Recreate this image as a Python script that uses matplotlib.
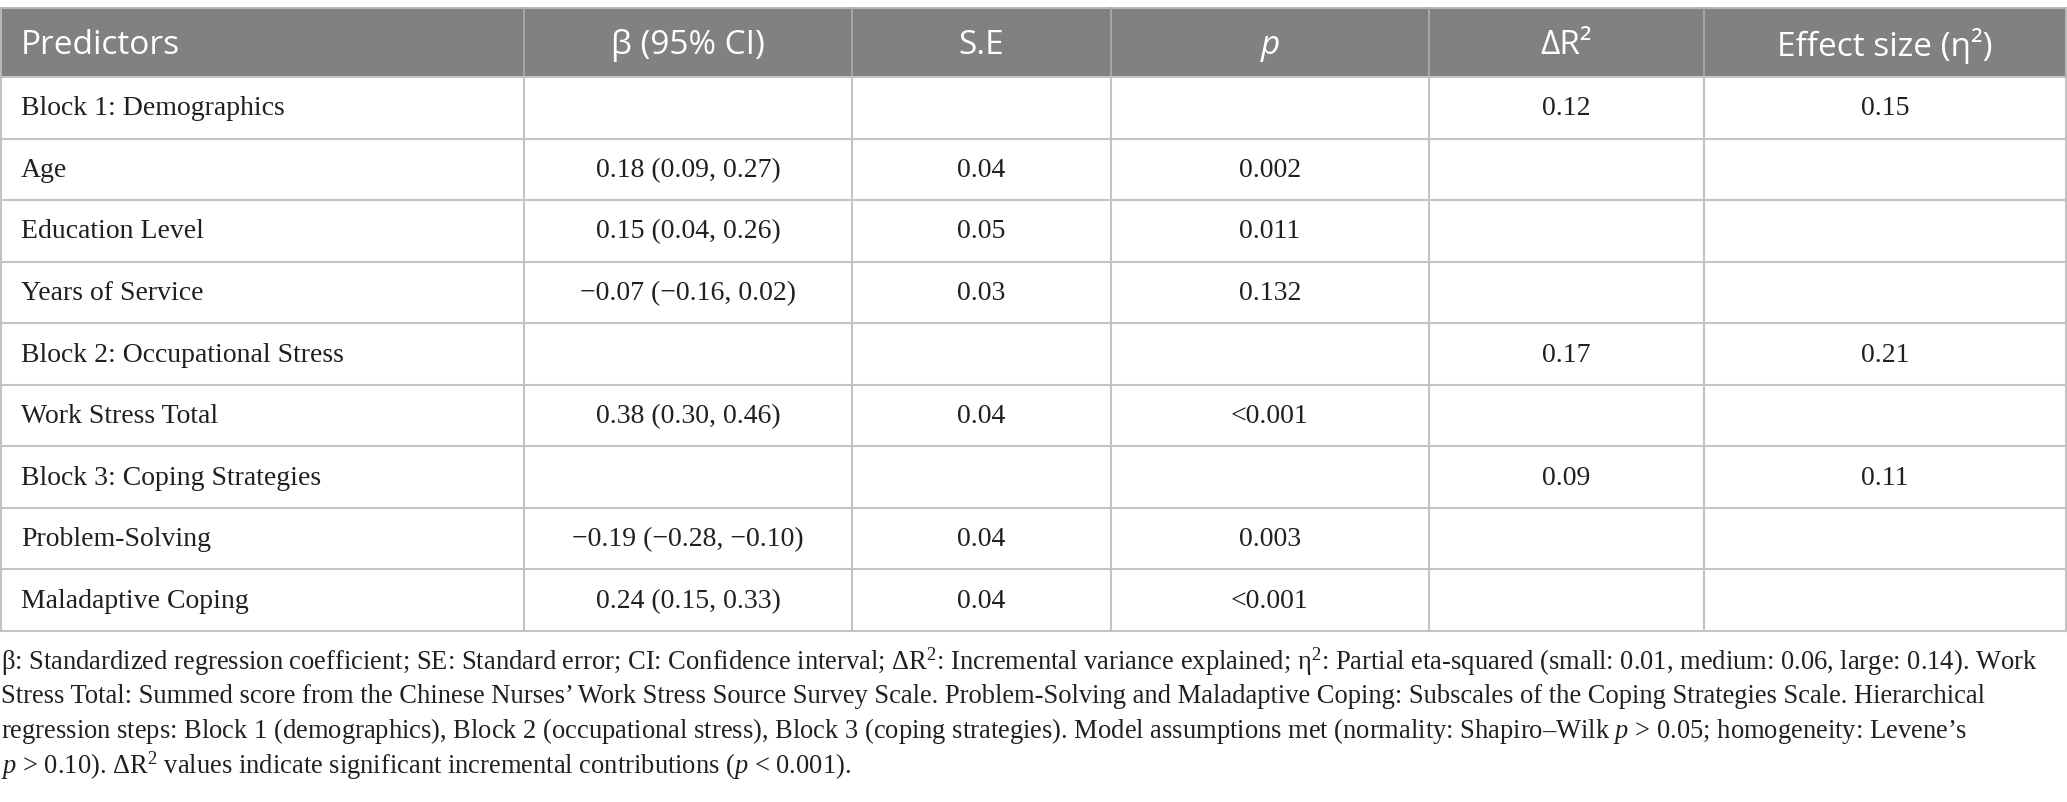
import matplotlib
matplotlib.use("Agg")
import matplotlib.pyplot as plt
from matplotlib.patches import Rectangle

plt.rcParams['mathtext.fontset'] = 'custom'
plt.rcParams['mathtext.rm'] = 'Liberation Serif'
plt.rcParams['mathtext.it'] = 'Liberation Serif:italic'
plt.rcParams['mathtext.bf'] = 'Liberation Serif:bold'

# ---------------- data ----------------
headers = ["Predictors", "β (95% CI)", "S.E", "p", "ΔR²", "Effect size (η²)"]
predictors = ["Block 1: Demographics", "Age", "Education Level", "Years of Service",
              "Block 2: Occupational Stress", "Work Stress Total",
              "Block 3: Coping Strategies", "Problem-Solving", "Maladaptive Coping"]
beta_ci = ["", "0.18 (0.09, 0.27)", "0.15 (0.04, 0.26)", "\u22120.07 (\u22120.16, 0.02)",
           "", "0.38 (0.30, 0.46)", "", "\u22120.19 (\u22120.28, \u22120.10)", "0.24 (0.15, 0.33)"]
se = ["", "0.04", "0.05", "0.03", "", "0.04", "", "0.04", "0.04"]
p_values = ["", "0.002", "0.011", "0.132", "", "<0.001", "", "0.003", "<0.001"]
delta_r2 = ["0.12", "", "", "", "0.17", "", "0.09", "", ""]
eta2 = ["0.15", "", "", "", "0.21", "", "0.11", "", ""]

footnote_lines = [
    "β: Standardized regression coefficient; SE: Standard error; CI: Confidence interval; ΔR$^{2}$: Incremental variance explained; η$^{2}$: Partial eta-squared (small: 0.01, medium: 0.06, large: 0.14). Work",
    "Stress Total: Summed score from the Chinese Nurses\u2019 Work Stress Source Survey Scale. Problem-Solving and Maladaptive Coping: Subscales of the Coping Strategies Scale. Hierarchical",
    "regression steps: Block 1 (demographics), Block 2 (occupational stress), Block 3 (coping strategies). Model assumptions met (normality: Shapiro\u2013Wilk $p$ > 0.05; homogeneity: Levene\u2019s",
    "$p$ > 0.10). ΔR$^{2}$ values indicate significant incremental contributions ($p$ < 0.001).",
]

# ---------------- layout ----------------
W, H = 2067, 802
fig = plt.figure(figsize=(W / 100, H / 100), dpi=100)
ax = fig.add_axes([0, 0, 1, 1])
ax.set_xlim(0, W)
ax.set_ylim(H, 0)
ax.axis('off')

col_x = [1, 524, 852, 1111, 1429, 1704, 2066]
header_top, header_bot = 8, 77
table_bot = 631
n_rows = len(predictors)
row_h = (table_bot - header_bot) / n_rows

header_bg = '#808180'
line_c = '#c4c4c4'
text_c = '#231f20'

ax.add_patch(Rectangle((col_x[0], header_top), col_x[-1] - col_x[0], header_bot - header_top,
                       facecolor=header_bg, edgecolor='none', zorder=1))
ax.plot([col_x[0], col_x[-1]], [header_top, header_top], color='#b8b8b8', lw=1.4, zorder=2)
for x in col_x[1:-1]:
    ax.plot([x, x], [header_top, header_bot], color='#a8a8a8', lw=1.4, zorder=2)
for i in range(n_rows + 1):
    y = header_bot + i * row_h
    ax.plot([col_x[0], col_x[-1]], [y, y], color=line_c, lw=1.5, zorder=2)
for x in col_x:
    ax.plot([x, x], [header_bot, table_bot], color=line_c, lw=1.5, zorder=2)
for x in (col_x[0], col_x[-1]):
    ax.plot([x, x], [header_top, header_bot], color='#b8b8b8', lw=1.4, zorder=2)

# header text
hfs = 24
hy = (header_top + header_bot) / 2 + 3
for j, h in enumerate(headers):
    if j == 0:
        ax.text(21, hy, h, ha='left', va='center', fontsize=hfs, color='white',
                family='Open Sans', zorder=3)
    else:
        cx = (col_x[j] + col_x[j + 1]) / 2
        ax.text(cx, hy, h, ha='center', va='center', fontsize=hfs, color='white',
                family='Open Sans', style='italic' if h == 'p' else 'normal', zorder=3)

# body text
bfs = 20
cols = [beta_ci, se, p_values, delta_r2, eta2]
for i in range(n_rows):
    cy = header_bot + (i + 0.5) * row_h + 1
    ax.text(21, cy, predictors[i], ha='left', va='center', fontsize=bfs, color=text_c,
            family='Liberation Serif', zorder=3)
    for j, col in enumerate(cols):
        if col[i]:
            cx = (col_x[j + 1] + col_x[j + 2]) / 2
            ax.text(cx, cy, col[i], ha='center', va='center', fontsize=bfs, color=text_c,
                    family='Liberation Serif', zorder=3)

# footnote
ffs = 19.1
fy0 = 662
fdy = 34.5
for k, line in enumerate(footnote_lines):
    ax.text(1, fy0 + k * fdy, line, ha='left', va='center', fontsize=ffs, color=text_c,
            family='Liberation Serif', zorder=3)

fig.savefig('out.png', dpi=100)
